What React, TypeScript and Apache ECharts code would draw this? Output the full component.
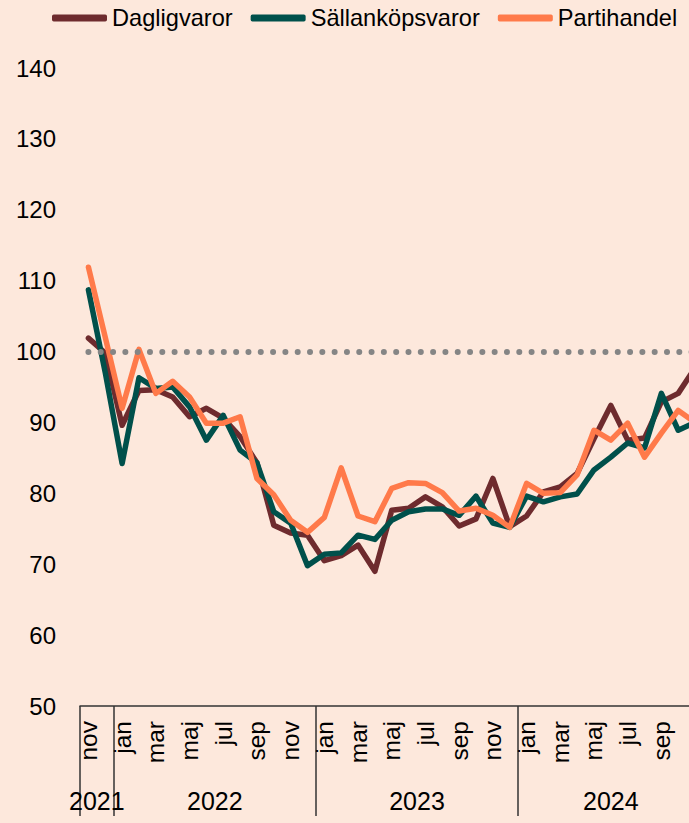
import React, { useEffect, useRef } from "react";
import * as echarts from "echarts";

const months = [
  "nov", "dec",
  "jan", "feb", "mar", "apr", "maj", "jun", "jul", "aug", "sep", "okt", "nov", "dec",
  "jan", "feb", "mar", "apr", "maj", "jun", "jul", "aug", "sep", "okt", "nov", "dec",
  "jan", "feb", "mar", "apr", "maj", "jun", "jul", "aug", "sep", "okt", "nov",
];
const years = [
  "2021", "2021",
  "2022", "2022", "2022", "2022", "2022", "2022", "2022", "2022", "2022", "2022", "2022", "2022",
  "2023", "2023", "2023", "2023", "2023", "2023", "2023", "2023", "2023", "2023", "2023", "2023",
  "2024", "2024", "2024", "2024", "2024", "2024", "2024", "2024", "2024", "2024", "2024",
];

const dagligvaror = [
  101.9, 99.8,
  89.6, 94.5, 94.6, 93.6, 90.8, 92.0, 90.6, 88.0, 84.3, 75.5, 74.4, 74.1,
  70.5, 71.2, 72.7, 69.0, 77.6, 77.9, 79.5, 78.1, 75.4, 76.4, 82.1, 75.3,
  76.8, 80.2, 80.9, 82.8, 87.7, 92.4, 87.5, 87.8, 92.9, 94.1, 97.7,
];
const sallankopsvaror = [
  108.7, 97.0,
  84.2, 96.3, 94.8, 95.0, 92.2, 87.5, 91.0, 86.1, 84.3, 77.4, 75.8, 69.8,
  71.4, 71.6, 74.1, 73.5, 76.2, 77.4, 77.8, 77.8, 76.9, 79.6, 75.8, 75.2,
  79.6, 78.8, 79.5, 79.9, 83.3, 85.1, 87.1, 86.4, 94.1, 88.9, 90.0,
];
const partihandel = [
  111.9, 102.0,
  92.0, 100.3, 94.1, 95.8, 93.6, 89.9, 89.9, 90.8, 82.1, 79.8, 76.2, 74.5,
  76.6, 83.6, 76.8, 76.0, 80.7, 81.5, 81.4, 80.1, 77.5, 77.9, 76.9, 75.2,
  81.4, 80.0, 80.1, 82.6, 88.9, 87.5, 89.9, 85.1, 88.5, 91.7, 90.0,
];

const seriesNames = ["Dagligvaror", "Sällanköpsvaror", "Partihandel"];
const seriesColors = ["#6E2B2E", "#00504B", "#FF7A4A"];
const referenceValue = 100;
const yMin = 50;
const yMax = 140;
const yStep = 10;

const BG = "#FDE8DC";
const FONT = "'Liberation Sans', Arial, sans-serif";

export default function App() {
  const ref = useRef<HTMLDivElement>(null);

  useEffect(() => {
    if (!ref.current) return;
    const chart = echarts.init(ref.current, null, { renderer: "svg" });

    const yearGroups: { year: string; center: number }[] = [];
    years.forEach((y) => {
      if (!yearGroups.find((gg) => gg.year === y)) yearGroups.push({ year: y, center: 0 });
    });
    yearGroups.forEach((g) => {
      const first = years.indexOf(g.year);
      const last = years.lastIndexOf(g.year);
      g.center = (first + last) / 2;
    });
    const yearStartIdx = yearGroups.map((g) => years.indexOf(g.year));

    const n = months.length;
    const dataSets = [dagligvaror, sallankopsvaror, partihandel];

    chart.setOption({
      animation: false,
      backgroundColor: BG,
      textStyle: { fontFamily: FONT },
      legend: {
        left: 47,
        top: 1,
        icon: "roundRect",
        itemWidth: 55,
        itemHeight: 7,
        itemGap: 18,
        textStyle: { fontSize: 23.6, color: "#000", fontFamily: FONT },
        data: seriesNames,
      },
      grid: { left: 80, right: 16.5, top: 68, bottom: 117, containLabel: false },
      xAxis: [
        {
          type: "category",
          position: "bottom",
          data: months,
          boundaryGap: true,
          axisLine: { show: true, lineStyle: { color: "#333", width: 1.5 } },
          axisTick: {
            show: true,
            interval: (index: number) => yearStartIdx.includes(index),
            length: 110,
            lineStyle: { color: "#333", width: 1.5 },
          },
          axisLabel: {
            interval: 1,
            rotate: 90,
            margin: 15,
            fontSize: 24.5,
            color: "#000",
            fontFamily: FONT,
          },
          splitLine: { show: false },
        },
        {
          type: "value",
          position: "bottom",
          min: -0.5,
          max: n - 0.5,
          interval: 0.5,
          axisLine: { show: false },
          axisTick: { show: false },
          splitLine: { show: false },
          axisLabel: {
            margin: 82,
            fontSize: 25,
            color: "#000",
            fontFamily: FONT,
            formatter: (v: number) => {
              const g = yearGroups.find((gg) => Math.abs(gg.center - v) < 0.01);
              return g ? g.year : "";
            },
          },
        },
      ],
      yAxis: {
        type: "value",
        min: yMin,
        max: yMax,
        interval: yStep,
        axisLine: { show: false },
        axisTick: { show: false },
        splitLine: { show: false },
        axisLabel: { fontSize: 24, color: "#000", margin: 24, fontFamily: FONT },
      },
      series: seriesNames.map((name, si) => ({
        name,
        type: "line",
        xAxisIndex: 0,
        data: dataSets[si],
        symbol: "none",
        lineStyle: { width: 5.5, color: seriesColors[si], cap: "round", join: "round" },
        itemStyle: { color: seriesColors[si] },
        emphasis: { disabled: true },
        markLine:
          si === seriesNames.length - 1
            ? {
                silent: true,
                symbol: "none",
                label: { show: false },
                emphasis: { disabled: true },
                lineStyle: { color: "#858585", width: 6, type: [0.01, 12.3], cap: "round" },
                data: [[{ coord: [0, referenceValue] }, { coord: [n - 1, referenceValue] }]],
              }
            : undefined,
      })),
    });

    return () => chart.dispose();
  }, []);

  return (
    <div
      style={{
        position: "fixed",
        left: 0,
        top: 0,
        width: 689,
        height: 823,
        overflow: "hidden",
        background: BG,
      }}
    >
      <div ref={ref} style={{ width: 720, height: 823 }} />
    </div>
  );
}
